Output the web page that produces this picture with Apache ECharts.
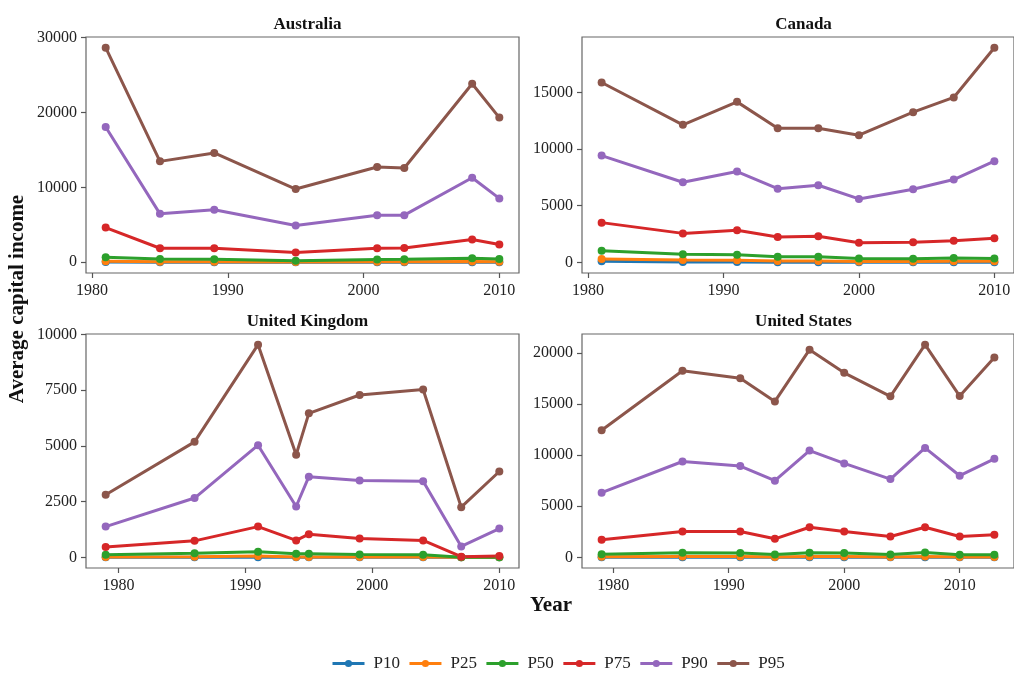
<!DOCTYPE html>
<html>
<head>
<meta charset="utf-8">
<script src="https://cdn.jsdelivr.net/npm/echarts@6/dist/echarts.min.js"></script>
<style>
  html, body { margin: 0; padding: 0; background: #fff; }
  #chart { width: 1014px; height: 673px; }
</style>
</head>
<body>
<div id="chart"></div>
<script>
// Average capital income by percentile, four countries
const percentiles = ['P10', 'P25', 'P50', 'P75', 'P90', 'P95'];
const colors = ['#1f77b4', '#ff7f0e', '#2ca02c', '#d62728', '#9467bd', '#8c564b'];

const auYears = [1981, 1985, 1989, 1995, 2001, 2003, 2008, 2010];
const auP10 = [20, 5, 5, 0, 5, 5, 10, 5];
const auP25 = [150, 60, 60, 30, 60, 60, 90, 70];
const auP50 = [670, 450, 400, 220, 360, 400, 540, 450];
const auP75 = [4640, 1875, 1875, 1290, 1875, 1920, 3040, 2370];
const auP90 = [18080, 6470, 7010, 4910, 6290, 6290, 11290, 8530];
const auP95 = [28660, 13480, 14600, 9780, 12720, 12590, 23840, 19330];

const caYears = [1981, 1987, 1991, 1994, 1997, 2000, 2004, 2007, 2010];
const caP10 = [90, 40, 40, 20, 20, 10, 10, 10, 10];
const caP25 = [300, 200, 180, 120, 120, 80, 80, 100, 100];
const caP50 = [1030, 710, 680, 500, 500, 350, 320, 380, 350];
const caP75 = [3510, 2560, 2830, 2240, 2300, 1740, 1770, 1920, 2120];
const caP90 = [9430, 7070, 8020, 6510, 6810, 5600, 6450, 7310, 8930];
const caP95 = [15880, 12140, 14170, 11840, 11840, 11230, 13260, 14560, 18950];

const ukYears = [1979, 1986, 1991, 1994, 1995, 1999, 2004, 2007, 2010];
const ukP10 = [0, 0, 0, 0, 0, 0, 0, 0, 0];
const ukP25 = [20, 30, 60, 20, 20, 15, 15, 0, 0];
const ukP50 = [120, 180, 250, 160, 160, 130, 120, 5, 10];
const ukP75 = [460, 740, 1380, 760, 1040, 850, 760, 30, 60];
const ukP90 = [1380, 2660, 5030, 2280, 3620, 3450, 3410, 490, 1290];
const ukP95 = [2810, 5180, 9540, 4600, 6460, 7280, 7530, 2250, 3850];

const usYears = [1979, 1986, 1991, 1994, 1997, 2000, 2004, 2007, 2010, 2013];
const usP10 = [10, 10, 10, 5, 10, 10, 5, 10, 5, 5];
const usP25 = [60, 80, 80, 50, 80, 80, 50, 90, 40, 40];
const usP50 = [320, 450, 420, 290, 450, 420, 290, 490, 260, 260];
const usP75 = [1720, 2530, 2530, 1820, 2950, 2530, 2050, 2950, 2050, 2210];
const usP90 = [6330, 9380, 8930, 7500, 10450, 9190, 7660, 10710, 7990, 9640];
const usP95 = [12430, 18250, 17530, 15260, 20320, 18050, 15750, 20810, 15780, 19550];

const xTicks = [1980, 1990, 2000, 2010];
const yTicksAU = [0, 10000, 20000, 30000];
const yTicksCA = [0, 5000, 10000, 15000];
const yTicksUK = [0, 2500, 5000, 7500, 10000];
const yTicksUS = [0, 5000, 10000, 15000, 20000];

const panels = [
  { title: 'Australia', years: auYears, values: [auP10, auP25, auP50, auP75, auP90, auP95], yTicks: yTicksAU,
    grid: { left: 86, top: 37, width: 433, height: 236 } },
  { title: 'Canada', years: caYears, values: [caP10, caP25, caP50, caP75, caP90, caP95], yTicks: yTicksCA,
    grid: { left: 582, top: 37, width: 433, height: 236 } },
  { title: 'United Kingdom', years: ukYears, values: [ukP10, ukP25, ukP50, ukP75, ukP90, ukP95], yTicks: yTicksUK,
    grid: { left: 86, top: 334, width: 433, height: 234 } },
  { title: 'United States', years: usYears, values: [usP10, usP25, usP50, usP75, usP90, usP95], yTicks: yTicksUS,
    grid: { left: 582, top: 334, width: 433, height: 234 } }
];

const FONT = '"Liberation Serif", "DejaVu Serif", serif';
const tickColor = '#555';

// 5% padding around the data range on both axes
function padded(lo, hi) {
  const r = hi - lo;
  return [lo - 0.05 * r, hi + 0.05 * r];
}

const grids = [], xAxes = [], yAxes = [], series = [], titles = [];
panels.forEach((p, i) => {
  grids.push(Object.assign({ show: true, borderColor: '#666', borderWidth: 1.2, backgroundColor: 'transparent' }, p.grid));
  const xr = padded(Math.min(...p.years), Math.max(...p.years));
  const all = p.values.flat();
  const yr = padded(Math.min(...all), Math.max(...all));
  xAxes.push({
    type: 'value', gridIndex: i, min: xr[0], max: xr[1], position: 'bottom',
    splitLine: { show: false }, axisLine: { show: false, onZero: false },
    axisTick: { show: true, length: 5, inside: false, customValues: xTicks, lineStyle: { color: tickColor, width: 1.2 } },
    axisLabel: { customValues: xTicks, margin: 10, fontFamily: FONT, fontSize: 16, color: '#222', formatter: v => String(v) }
  });
  yAxes.push({
    type: 'value', gridIndex: i, min: yr[0], max: yr[1], position: 'left',
    splitLine: { show: false }, axisLine: { show: false, onZero: false },
    axisTick: { show: true, length: 5, inside: false, customValues: p.yTicks, lineStyle: { color: tickColor, width: 1.2 } },
    axisLabel: { customValues: p.yTicks, margin: 9, fontFamily: FONT, fontSize: 16, color: '#222', formatter: v => String(v) }
  });
  percentiles.forEach((name, k) => {
    series.push({
      name: name, type: 'line', xAxisIndex: i, yAxisIndex: i,
      data: p.years.map((y, j) => [y, p.values[k][j]]),
      symbol: 'circle', symbolSize: 8, showSymbol: true,
      lineStyle: { width: 3, color: colors[k] },
      itemStyle: { color: colors[k] },
      emphasis: { disabled: true },
      animation: false
    });
  });
  titles.push({
    text: p.title,
    left: p.grid.left + p.grid.width / 2, top: p.grid.top - 26, textAlign: 'center',
    textStyle: { fontFamily: FONT, fontSize: 17, fontWeight: 'bold', color: '#111' }
  });
});

const chart = echarts.init(document.getElementById('chart'), null, { renderer: 'canvas' });
chart.setOption({
  backgroundColor: '#fff',
  animation: false,
  color: colors,
  title: titles,
  grid: grids,
  xAxis: xAxes,
  yAxis: yAxes,
  series: series,
  legend: {
    data: percentiles,
    left: 326, top: 650,
    itemWidth: 32, itemHeight: 9, itemGap: 8,
    lineStyle: { width: 3 },
    textStyle: { fontFamily: FONT, fontSize: 17, color: '#222', padding: [0, 0, 0, 4] }
  },
  graphic: [
    { type: 'text', x: 551, y: 606,
      style: { text: 'Year', font: 'bold 21px ' + FONT, fill: '#111', align: 'center', verticalAlign: 'middle' } },
    { type: 'text', rotation: Math.PI / 2, x: 18, y: 299,
      style: { text: 'Average capital income', font: 'bold 21px ' + FONT, fill: '#111', align: 'center', verticalAlign: 'middle' } }
  ]
});
</script>
</body>
</html>
